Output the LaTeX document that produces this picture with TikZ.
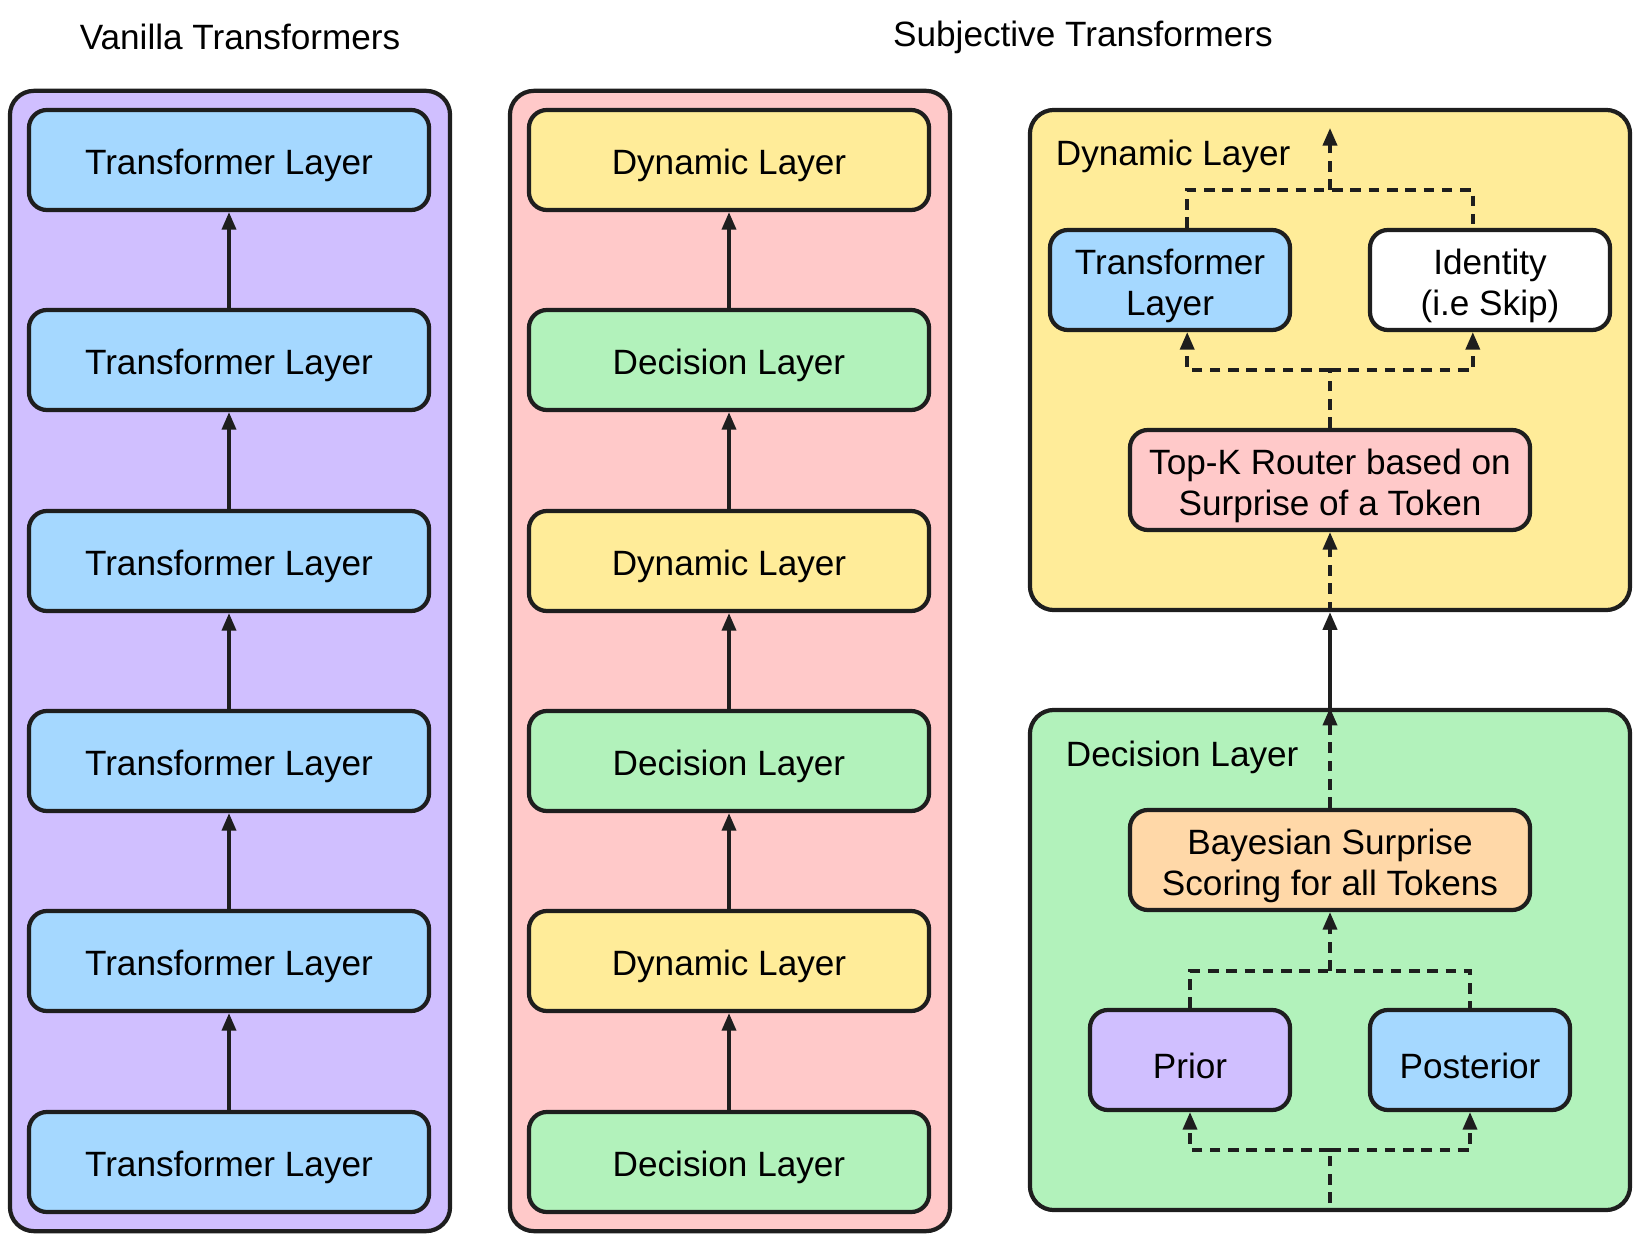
\documentclass[tikz,border=0pt]{standalone}
\usepackage{fontspec}
\setmainfont{Liberation Sans}
\usetikzlibrary{arrows.meta}
\definecolor{ink}{HTML}{1E1E1E}
\definecolor{lavender}{HTML}{D0BFFF}
\definecolor{rosepink}{HTML}{FFC9C9}
\definecolor{butter}{HTML}{FFEC99}
\definecolor{mint}{HTML}{B2F2BB}
\definecolor{skyblue}{HTML}{A5D8FF}
\definecolor{peach}{HTML}{FFD8A8}

\begin{document}
\begin{tikzpicture}[x=0.025cm, y=-0.025cm, >={Triangle[length=12.5pt,width=10pt]},
  font=\fontsize{25}{29}\selectfont,
  frame/.style={draw=ink, line width=3pt, rounded corners=0.6cm, inner sep=0pt},
  box/.style={draw=ink, line width=3pt, rounded corners=0.45cm, align=center,
    minimum width=10cm, minimum height=2.5cm, inner sep=0pt},
  flow/.style={->, draw=ink, line width=2.5pt},
  dflow/.style={flow, dash pattern=on 7.5pt off 5.5pt}]
  \useasboundingbox (0,0) rectangle (1640,1240);

  \node (vtitle) at (240,37) {Vanilla Transformers};
  \node (stitle) at (1083,37) {Subjective Transformers};

  \node[frame, fill=lavender, minimum width=11cm, minimum height=28.5cm] (vanilla) at (230,661) {};
  \node[box, fill=skyblue] (tl1) at (229,1162) {\rule{0pt}{26pt}Transformer Layer};
  \node[box, fill=skyblue] (tl2) at (229,961)  {\rule{0pt}{26pt}Transformer Layer};
  \node[box, fill=skyblue] (tl3) at (229,761)  {\rule{0pt}{26pt}Transformer Layer};
  \node[box, fill=skyblue] (tl4) at (229,561)  {\rule{0pt}{26pt}Transformer Layer};
  \node[box, fill=skyblue] (tl5) at (229,360)  {\rule{0pt}{26pt}Transformer Layer};
  \node[box, fill=skyblue] (tl6) at (229,160)  {\rule{0pt}{26pt}Transformer Layer};
  \draw[flow] (tl1) -- (tl2);
  \draw[flow] (tl2) -- (tl3);
  \draw[flow] (tl3) -- (tl4);
  \draw[flow] (tl4) -- (tl5);
  \draw[flow] (tl5) -- (tl6);

  \node[frame, fill=rosepink, minimum width=11cm, minimum height=28.5cm] (subjective) at (730,661) {};
  \node[box, fill=mint]   (sl1) at (729,1162) {\rule{0pt}{26pt}Decision Layer};
  \node[box, fill=butter] (sl2) at (729,961)  {\rule{0pt}{26pt}Dynamic Layer};
  \node[box, fill=mint]   (sl3) at (729,761)  {\rule{0pt}{26pt}Decision Layer};
  \node[box, fill=butter] (sl4) at (729,561)  {\rule{0pt}{26pt}Dynamic Layer};
  \node[box, fill=mint]   (sl5) at (729,360)  {\rule{0pt}{26pt}Decision Layer};
  \node[box, fill=butter] (sl6) at (729,160)  {\rule{0pt}{26pt}Dynamic Layer};
  \draw[flow] (sl1) -- (sl2);
  \draw[flow] (sl2) -- (sl3);
  \draw[flow] (sl3) -- (sl4);
  \draw[flow] (sl4) -- (sl5);
  \draw[flow] (sl5) -- (sl6);

  \node[frame, fill=butter, minimum width=15cm, minimum height=12.5cm] (dynframe) at (1330,360) {};
  \node[anchor=west] (dynlabel) at (1051,156) {Dynamic Layer};
  \node[box, fill=skyblue, minimum width=6cm] (tlbox) at (1170,280) {\rule{0pt}{26pt}Transformer\\Layer};
  \node[box, fill=white, minimum width=6cm] (skip) at (1490,280) {\rule{0pt}{26pt}Identity\\(i.e Skip)};
  \node[box, fill=rosepink] (router) at (1330,480) {\rule{0pt}{26pt}Top-K Router based on\\Surprise of a Token};
  \coordinate (jroute) at (1330,370);
  \coordinate (jmerge) at (1330,190);
  \coordinate (dynout) at (1330,128);

  \node[frame, fill=mint, minimum width=15cm, minimum height=12.5cm] (decframe) at (1330,960) {};
  \node[anchor=west] (declabel) at (1061,757) {Decision Layer};
  \node[box, fill=peach] (bayes) at (1330,860) {\rule{0pt}{26pt}Bayesian Surprise\\Scoring for all Tokens};
  \node[box, fill=lavender, minimum width=5cm] (prior) at (1190,1060) {\rule{0pt}{26pt}Prior};
  \node[box, fill=skyblue, minimum width=5cm] (post) at (1470,1060) {\rule{0pt}{26pt}Posterior};
  \coordinate (jscore) at (1330,971);
  \coordinate (jsplit) at (1330,1150);
  \coordinate (decin) at (1330,1203);

  \draw[flow] (decframe.north) -- (dynframe.south);
  \draw[dflow] (dynframe.south) -- (router);
  \draw[dflow,-] (router) -- (jroute);
  \draw[dflow] (jroute) -| ([xshift=0.43cm]tlbox.south);
  \draw[dflow] (jroute) -| ([xshift=-0.43cm]skip.south);
  \draw[dflow,-] ([xshift=0.43cm]tlbox.north) |- (jmerge) -| ([xshift=-0.43cm]skip.north);
  \draw[dflow] (jmerge) -- (dynout);

  \draw[dflow,-] (decin) -- (jsplit);
  \draw[dflow] (jsplit) -| (prior);
  \draw[dflow] (jsplit) -| (post);
  \draw[dflow,-] (prior) |- (jscore) -| (post);
  \draw[dflow] (jscore) -- (bayes);
  \draw[dflow] (bayes) -- (decframe.north);
\end{tikzpicture}
\end{document}
